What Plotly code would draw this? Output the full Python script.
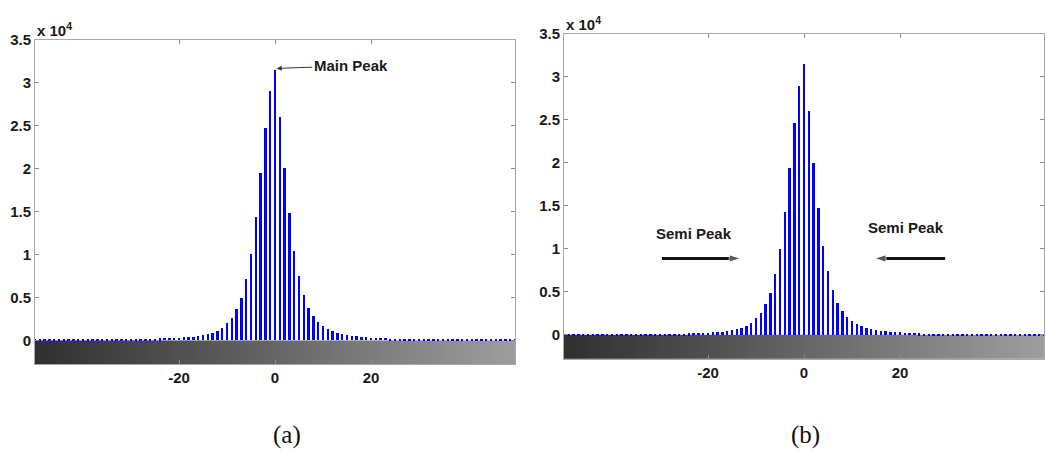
import numpy as np
import plotly.graph_objects as go

# ---- data ----
bins = list(range(-50, 51))
counts_neg = [50] * 15 + [50, 60, 70, 85, 100, 115, 130, 145, 160, 180, 200, 220, 245, 265, 290,
                         320, 350, 390, 440, 510, 600, 700, 850, 1050, 1400, 2000, 2600, 3600,
                         4950, 7100, 10050, 14350, 19450, 24700, 29000]
count_zero = [31550]
counts_pos = [26050, 20050, 14800, 10400, 7450, 5250, 3800, 2850, 2150, 1700, 1350, 1100, 900,
              750, 620, 520, 460, 400, 360, 330, 300, 270, 240, 210, 190, 170, 150, 130, 120,
              110, 100, 90, 80, 70, 50] + [50] * 15
counts = counts_neg + count_zero + counts_pos

x_range = [-50, 50]
y_range = [-2800, 35000]
y_tickvals = [0, 5000, 10000, 15000, 20000, 25000, 30000, 35000]
y_ticktext = ["0", "0.5", "1", "1.5", "2", "2.5", "3", "3.5"]
x_tickvals = [-20, 0, 20]
x_ticktext = ["-20", "0", "20"]

# semi-peak arrows (panel b): tail -> head
left_arrow_x = [-29.6, -13.2]
right_arrow_x = [29.4, 14.7]
arrow_y = [8870, 8870]

W, H = 1046, 452
FONT = "Liberation Sans"

fig = go.Figure()

grad_edges = np.linspace(x_range[0], x_range[1], 201)
grad_z = [np.linspace(0, 1, 200)]
gray_scale = [[0, "#2f2f2f"], [1, "#9d9d9d"]]

for xa, ya in (("x", "y"), ("x2", "y2")):
    fig.add_trace(go.Heatmap(x=grad_edges, y=[y_range[0], 0], z=grad_z,
                             colorscale=gray_scale, showscale=False, hoverinfo="skip",
                             xaxis=xa, yaxis=ya))
    fig.add_trace(go.Bar(x=bins, y=counts, width=0.5, marker=dict(color="#0000ff", line=dict(width=0)),
                         xaxis=xa, yaxis=ya, showlegend=False))

for ax_x in (left_arrow_x, right_arrow_x):
    fig.add_trace(go.Scatter(x=ax_x, y=arrow_y, mode="lines+markers", xaxis="x2", yaxis="y2",
                             line=dict(color="#111111", width=3),
                             marker=dict(symbol="arrow", angleref="previous", size=[0, 12],
                                         color="#111111"),
                             hoverinfo="skip", showlegend=False))

axis_common = dict(showline=True, linecolor="#a8a8a8", linewidth=1, mirror="ticks",
                   ticks="inside", ticklen=4, tickcolor="#8a8a8a", showgrid=False, zeroline=False,
                   tickfont=dict(family=FONT, size=15, color="#1a1a1a", weight="bold"))

def px_x(p):
    return p / W

def px_y(p):
    return (H - p) / H

fig.update_layout(
    width=W, height=H, margin=dict(l=0, r=0, t=0, b=0),
    paper_bgcolor="white", plot_bgcolor="white", showlegend=False, bargap=0,
    xaxis=dict(domain=[px_x(35), px_x(515)], range=x_range, tickvals=x_tickvals, ticktext=x_ticktext,
               anchor="y", **axis_common),
    yaxis=dict(domain=[px_y(362.7), px_y(31.7)], range=y_range, tickvals=y_tickvals, ticktext=y_ticktext,
               anchor="x", **axis_common),
    xaxis2=dict(domain=[px_x(564), px_x(1044)], range=x_range, tickvals=x_tickvals, ticktext=x_ticktext,
                anchor="y2", **axis_common),
    yaxis2=dict(domain=[px_y(357), px_y(25)], range=y_range, tickvals=y_tickvals, ticktext=y_ticktext,
                anchor="x2", **axis_common),
)

ann_font = dict(family=FONT, size=15, color="#1a1a1a", weight="bold")
exp_font = dict(family=FONT, size=15, color="#1a1a1a", weight="bold")
lbl_font = dict(family="Liberation Serif", size=25, color="#111111")
annotations = [
    dict(x=0.35, y=31700, xref="x", yref="y", ax=15.8, ay=32000, axref="x", ayref="y",
         text="Main Peak", font=ann_font, showarrow=True, arrowhead=2, arrowsize=1,
         arrowwidth=1, arrowcolor="#333333", xanchor="center"),
    dict(x=-23.0, y=11800, xref="x2", yref="y2", text="Semi Peak", font=ann_font, showarrow=False,
         xanchor="center", yanchor="middle"),
    dict(x=21.3, y=12500, xref="x2", yref="y2", text="Semi Peak", font=ann_font, showarrow=False,
         xanchor="center", yanchor="middle"),
    dict(x=px_x(35), y=px_y(21), xref="paper", yref="paper", xanchor="left", yanchor="middle",
         text="x 10<sup>4</sup>", font=exp_font, showarrow=False),
    dict(x=px_x(564), y=px_y(15), xref="paper", yref="paper", xanchor="left", yanchor="middle",
         text="x 10<sup>4</sup>", font=exp_font, showarrow=False),
    dict(x=px_x(287), y=px_y(435), xref="paper", yref="paper", text="(a)",
         font=lbl_font, showarrow=False, xanchor="center", yanchor="middle"),
    dict(x=px_x(805), y=px_y(435), xref="paper", yref="paper", text="(b)",
         font=lbl_font, showarrow=False, xanchor="center", yanchor="middle"),
]
fig.update_layout(annotations=annotations)

fig.write_html("out.html", config={"displayModeBar": False},
               post_script="document.body.style.margin='0';document.body.style.overflow='hidden';")
